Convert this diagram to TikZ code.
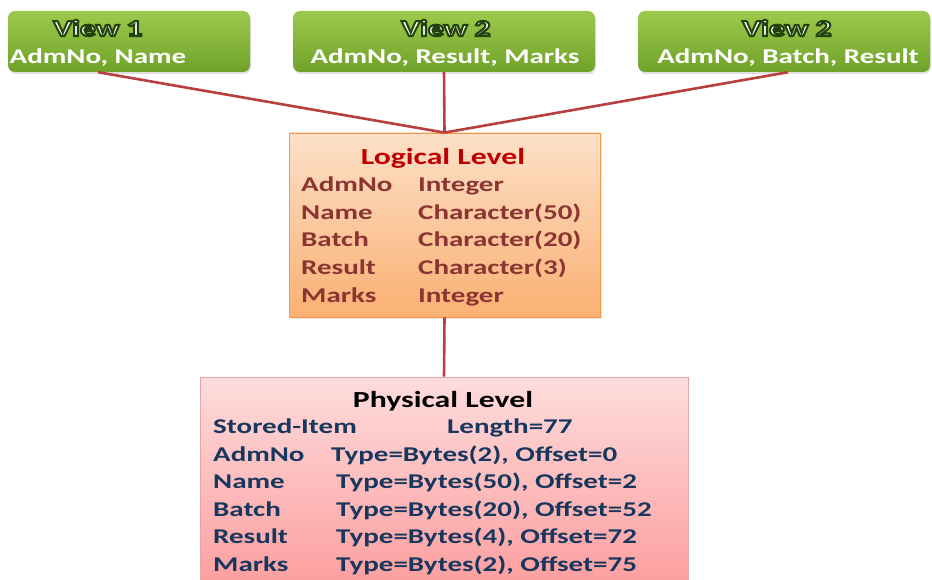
\documentclass[tikz,border=0pt]{standalone}
\usepackage{fontspec}
\setmainfont{Carlito}[FakeStretch=1.38]
\usetikzlibrary{shadows}
\definecolor{viewtop}{RGB}{156,202,76}
\definecolor{viewbot}{RGB}{112,162,42}
\definecolor{logtop}{RGB}{252,224,200}
\definecolor{logbot}{RGB}{250,176,114}
\definecolor{logline}{RGB}{247,150,70}
\definecolor{logtitle}{RGB}{192,0,0}
\definecolor{logtext}{RGB}{140,52,50}
\definecolor{phytop}{RGB}{254,220,220}
\definecolor{phybot}{RGB}{252,160,160}
\definecolor{phyline}{RGB}{196,60,60}
\definecolor{phytext}{RGB}{23,55,94}
\definecolor{linkred}{RGB}{185,62,62}
% white letters with a dark green rim
\newcommand\outlined[1]{\special{pdf:literal direct 2 Tr 2 w 0.14 0.26 0.05 RG}#1\special{pdf:literal direct 0 Tr}}
\newcommand\rowfont{\fontsize{21}{25}\selectfont\bfseries}
\newcommand\headfont{\fontsize{23}{27}\selectfont\bfseries}
\begin{document}
\begin{tikzpicture}[x=1pt,y=-1pt,
  viewbox/.style={rounded corners=7pt,top color=viewtop,bottom color=viewbot,
    minimum height=61pt,inner sep=0pt,
    drop shadow={opacity=0.25,shadow xshift=1pt,shadow yshift=-2pt}},
  viewhead/.style={anchor=base,inner sep=0pt,text=white,font=\headfont},
  viewtext/.style={anchor=base,inner sep=0pt,text=white,font=\rowfont},
  logbox/.style={draw=logline,line width=0.8pt,top color=logtop,bottom color=logbot,
    inner sep=0pt,drop shadow={opacity=0.2,shadow xshift=1.5pt,shadow yshift=-1.5pt}},
  loghead/.style={anchor=base,inner sep=0pt,text=logtitle,font=\headfont},
  logtext/.style={anchor=base west,inner sep=0pt,text=logtext,font=\rowfont},
  phybox/.style={draw=phyline!45,line width=0.8pt,top color=phytop,bottom color=phybot,inner sep=0pt},
  phyhead/.style={anchor=base,inner sep=0pt,text=black,font=\headfont},
  phytext/.style={anchor=base west,inner sep=0pt,text=phytext,font=\rowfont},
  link/.style={draw=linkred,line width=2.6pt}]
  \useasboundingbox (0,0) rectangle (932,580);

  % external views
  \node[viewbox,minimum width=242pt] (v1) at (129,41.5) {};
  \node[viewbox,minimum width=302pt] (v2) at (444,41.5) {};
  \node[viewbox,minimum width=292pt] (v3) at (784,41.5) {};
  \node[viewhead] (v1head) at (98,36) {\outlined{View 1}};
  \node[viewtext] (v1txt) at (98,64) {AdmNo, Name};
  \node[viewhead] (v2head) at (446,36) {\outlined{View 2}};
  \node[viewtext] (v2txt) at (445,64) {AdmNo, Result, Marks};
  \node[viewhead] (v3head) at (787,36) {\outlined{View 2}};
  \node[viewtext] (v3txt) at (788,64) {AdmNo, Batch, Result};

  % logical level
  \node[logbox,minimum width=311pt,minimum height=184pt] (logic) at (444.5,225) {};
  \node[loghead] (loghead) at (443,164.5) {Logical Level};
  \foreach \fld/\typ [count=\i] in {AdmNo/Integer,Name/Character(50),
      Batch/Character(20),Result/Character(3),Marks/Integer}{
    \node[logtext] (lf\i) at (301,{164.5+27.5*\i}) {\fld};
    \node[logtext] (lt\i) at (418,{164.5+27.5*\i}) {\typ};
  }

  % physical level
  \node[phybox,minimum width=488pt,minimum height=203pt] (phys) at (444,478.5) {};
  \node[phyhead] (phyhead) at (443,407) {Physical Level};
  \node[phytext] (stored) at (213,433) {Stored-Item};
  \node[phytext] (length) at (447,433) {Length=77};
  \node[phytext] (pf1) at (213,461.5) {AdmNo};
  \node[phytext] (pt1) at (331,461.5) {Type=Bytes(2), Offset=0};
  \foreach \fld/\typ [count=\i from 2] in {Name/{Type=Bytes(50), Offset=2},
      Batch/{Type=Bytes(20), Offset=52},Result/{Type=Bytes(4), Offset=72},
      Marks/{Type=Bytes(2), Offset=75}}{
    \node[phytext] (pf\i) at (213,{434+27.4*\i}) {\fld};
    \node[phytext] (pt\i) at (336,{434+27.4*\i}) {\typ};
  }

  % mappings
  \draw[link] (v1txt |- v1.south) -- (logic.north);
  \draw[link] (v2.south) -- (logic.north);
  \draw[link] (v3txt |- v3.south) -- (logic.north);
  \draw[link] (logic.south) -- (phys.north);
\end{tikzpicture}
\end{document}
